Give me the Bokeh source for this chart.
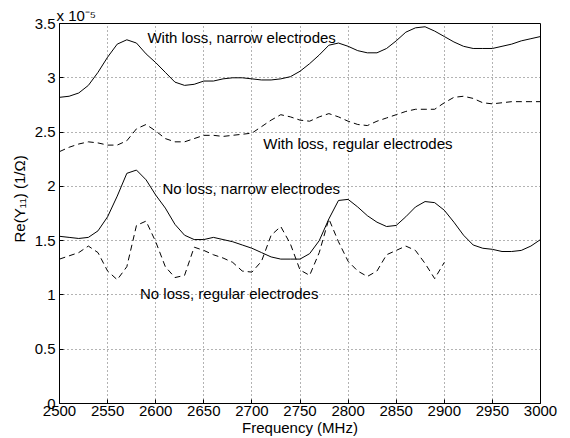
from bokeh.plotting import figure
from bokeh.models import FixedTicker, CustomJSTickFormatter, Label, Range1d
from bokeh.embed import file_html
from bokeh.resources import INLINE

# ---- data (Re(Y11) in units of 1e-5 1/Ohm) ----
freq = list(range(2500, 3001, 10))
freq_short = list(range(2500, 2901, 10))

with_loss_narrow = [2.82, 2.83, 2.86, 2.93, 3.05, 3.19, 3.31, 3.35, 3.32, 3.22,
                    3.14, 3.05, 2.96, 2.93, 2.94, 2.97, 2.97, 2.99, 3.00, 3.00,
                    2.99, 2.98, 2.98, 2.99, 3.01, 3.06, 3.13, 3.21, 3.30, 3.32,
                    3.29, 3.25, 3.23, 3.23, 3.27, 3.34, 3.42, 3.46, 3.47, 3.43,
                    3.38, 3.33, 3.29, 3.27, 3.27, 3.27, 3.29, 3.31, 3.34, 3.36,
                    3.38]
with_loss_regular = [2.32, 2.36, 2.39, 2.41, 2.40, 2.38, 2.38, 2.42, 2.53, 2.57,
                     2.51, 2.44, 2.41, 2.41, 2.44, 2.47, 2.47, 2.46, 2.47, 2.48,
                     2.49, 2.55, 2.61, 2.66, 2.64, 2.61, 2.60, 2.64, 2.67, 2.64,
                     2.60, 2.57, 2.56, 2.60, 2.63, 2.66, 2.69, 2.71, 2.71, 2.71,
                     2.77, 2.82, 2.83, 2.81, 2.77, 2.76, 2.77, 2.78, 2.78, 2.78,
                     2.78]
no_loss_narrow = [1.54, 1.53, 1.52, 1.53, 1.59, 1.72, 1.91, 2.12, 2.15, 2.06,
                  1.92, 1.80, 1.65, 1.55, 1.51, 1.51, 1.53, 1.51, 1.49, 1.46,
                  1.43, 1.39, 1.35, 1.33, 1.33, 1.33, 1.38, 1.50, 1.70, 1.87,
                  1.88, 1.81, 1.73, 1.67, 1.63, 1.64, 1.72, 1.81, 1.86, 1.85,
                  1.78, 1.67, 1.55, 1.46, 1.43, 1.42, 1.40, 1.40, 1.41, 1.45,
                  1.51]
no_loss_regular = [1.33, 1.36, 1.39, 1.45, 1.39, 1.22, 1.14, 1.26, 1.64, 1.68,
                   1.49, 1.26, 1.16, 1.18, 1.44, 1.41, 1.37, 1.34, 1.30, 1.22,
                   1.21, 1.31, 1.55, 1.63, 1.47, 1.23, 1.18, 1.39, 1.70, 1.49,
                   1.31, 1.22, 1.17, 1.22, 1.37, 1.41, 1.45, 1.41, 1.29, 1.15,
                   1.30]

x_ticks = [2500, 2550, 2600, 2650, 2700, 2750, 2800, 2850, 2900, 2950, 3000]
y_ticks = [0, 0.5, 1, 1.5, 2, 2.5, 3, 3.5]

FONT = "Liberation Sans"
FS = "15px"

p = figure(width=570, height=438, output_backend="svg", toolbar_location=None,
           x_range=Range1d(2500, 3000), y_range=Range1d(0, 3.5),
           min_border_left=59, min_border_right=30, min_border_top=23,
           min_border_bottom=35,
           x_axis_label="Frequency (MHz)",
           y_axis_label="\u00a0" * 7 + "Re(Y\u2081\u2081) (1/\u03a9)")
p.background_fill_color = "white"
p.border_fill_color = "white"
p.outline_line_color = "black"
p.outline_line_width = 1

p.title.text = "x 10\u207b\u2075"
p.title.align = "left"
p.title.text_font = FONT
p.title.text_font_size = FS
p.title.text_font_style = "normal"
p.title.text_color = "black"
p.title.standoff = 0
p.title.offset = -3

p.line(freq, with_loss_narrow, line_color="black", line_width=1)
p.line(freq, with_loss_regular, line_color="black", line_width=1, line_dash="6 4")
p.line(freq, no_loss_narrow, line_color="black", line_width=1)
p.line(freq_short, no_loss_regular, line_color="black", line_width=1, line_dash="6 4")

fmt_y = CustomJSTickFormatter(code="return String(Math.round(tick*10)/10);")

for ax in p.xaxis:
    ax.ticker = FixedTicker(ticks=x_ticks)
for ax in p.yaxis:
    ax.ticker = FixedTicker(ticks=y_ticks)
    ax.formatter = fmt_y

for ax in list(p.xaxis) + list(p.yaxis):
    ax.major_tick_in = 4
    ax.major_tick_out = 0
    ax.minor_tick_in = 0
    ax.minor_tick_out = 0
    ax.axis_line_color = "black"
    ax.major_tick_line_color = "black"
    ax.major_label_text_font = FONT
    ax.major_label_text_font_size = FS
    ax.major_label_text_color = "black"
    ax.axis_label_text_font = FONT
    ax.axis_label_text_font_size = FS
    ax.axis_label_text_font_style = "normal"
    ax.axis_label_text_color = "black"
p.xaxis.major_label_standoff = 2
p.xaxis.axis_label_standoff = 0
p.yaxis.major_label_standoff = 4
p.yaxis.axis_label_standoff = 4

p.xgrid.ticker = FixedTicker(ticks=x_ticks)
p.ygrid.ticker = FixedTicker(ticks=y_ticks)
for g in (p.xgrid, p.ygrid):
    g.grid_line_color = "black"
    g.grid_line_alpha = 0.6
    g.grid_line_dash = "1 3"
    g.grid_line_width = 1

# curve labels
labels = [
    (2591.4, 3.372, "With loss, narrow electrodes"),
    (2711.8, 2.394, "With loss, regular electrodes"),
    (2607.0, 1.979, "No loss, narrow electrodes"),
    (2583.7, 1.016, "No loss, regular electrodes"),
]
for lx, ly, lt in labels:
    p.add_layout(Label(x=lx, y=ly, text=lt, text_font=FONT, text_font_size=FS,
                       text_color="black", text_align="left",
                       text_baseline="alphabetic"))

open("out.html", "w").write(file_html(p, INLINE))
